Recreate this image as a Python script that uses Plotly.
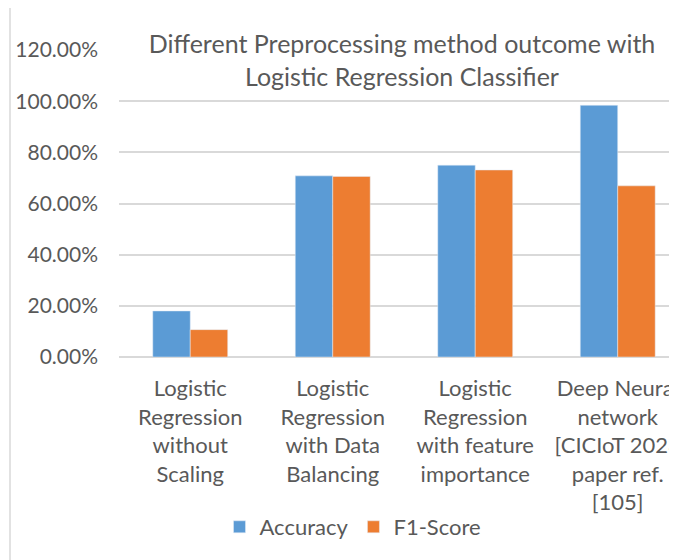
import plotly.graph_objects as go

categories = [
    "Logistic<br>Regression<br>without<br>Scaling",
    "Logistic<br>Regression<br>with Data<br>Balancing",
    "Logistic<br>Regression<br>with feature<br>importance",
    "Deep Neural<br>network<br>[CICIoT 2023<br>paper ref.<br>[105]",
]
accuracy = [0.180, 0.708, 0.750, 0.984]
f1_score = [0.107, 0.706, 0.731, 0.669]
series_names = ["Accuracy", "F1-Score"]
title_text = "Different Preprocessing method outcome with<br>Logistic Regression Classifier"

FONT = "Lato"
GREY = "#595959"
GRID = "#d9d9d9"

# the page body adds an 8px offset, so the figure is 8px smaller
W, H = 669, 552
L, T, B = 111, 42, 203
PW, PH = W - L, H - T - B

fig = go.Figure()
fig.add_trace(go.Bar(x=categories, y=accuracy, name=series_names[0],
                     marker=dict(color="#5B9BD5")))
fig.add_trace(go.Bar(x=categories, y=f1_score, name=series_names[1],
                     marker=dict(color="#ED7D31")))

fig.update_layout(
    width=W, height=H,
    margin=dict(l=L, r=0, t=T, b=B, pad=0),
    paper_bgcolor="white", plot_bgcolor="white",
    barmode="group", bargap=0.474, bargroupgap=0,
    font=dict(family=FONT, size=22, color=GREY),
    title=dict(text=title_text, x=394/W, xanchor="center",
               y=1-45/H, yanchor="middle", yref="container",
               font=dict(family=FONT, size=25, color=GREY)),
    legend=dict(orientation="h", xref="container", yref="container",
                x=345/W, xanchor="center", y=1-519/H, yanchor="middle",
                font=dict(family=FONT, size=22, color=GREY),
                itemwidth=30, bgcolor="rgba(0,0,0,0)"),
    showlegend=True,
)
fig.update_yaxes(range=[0, 1.2], tickvals=[0, 0.2, 0.4, 0.6, 0.8, 1.0, 1.2],
                 tickformat=".2%", showgrid=True, gridcolor=GRID, gridwidth=1.5,
                 zeroline=True, zerolinecolor=GRID, zerolinewidth=1.5,
                 showline=False, ticks="", ticklabelstandoff=20, automargin=False,
                 tickfont=dict(family=FONT, size=21, color=GREY), fixedrange=True)
fig.update_xaxes(range=[-0.5, 3.416], showgrid=False, showline=False, ticks="",
                 ticklabelstandoff=16, tickangle=0, automargin=False,
                 tickfont=dict(family=FONT, size=22, color=GREY))

bx = (2 - L) / PW
fig.add_shape(type="line", xref="paper", yref="paper",
              x0=bx, x1=bx, y0=(H - B) / PH, y1=-B / PH,
              line=dict(color=GRID, width=1.5))

fig.write_html("out.html")
